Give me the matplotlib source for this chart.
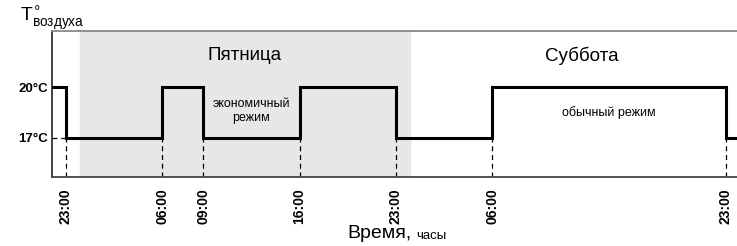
import matplotlib.pyplot as plt

plt.rcParams['font.family'] = ['Liberation Sans', 'DejaVu Sans']

# hours counted from Thursday 00:00
switch_hours = [23, 30, 33, 40, 47, 54, 71]
switch_labels = ['23:00', '06:00', '09:00', '16:00', '23:00', '06:00', '23:00']
temps_before = [20, 17, 20, 17, 20, 17, 20]   # temperature before each switch
temp_levels = [17, 20]
temp_labels = ['17°C', '20°C']
friday = (24, 48)
x_min, x_max = 22, 71.8

# build the step line from the switch points
xs = [x_min]
ys = [temps_before[0]]
for h, t in zip(switch_hours, temps_before):
    new_t = 17 if t == 20 else 20
    xs += [h, h]
    ys += [t, new_t]
xs.append(x_max)
ys.append(ys[-1])

fig = plt.figure(figsize=(7.37, 2.46), dpi=100)
ax = fig.add_axes([52 / 737, 1 - 177 / 246, 1 - 52 / 737, (177 - 31) / 246])

ax.axvspan(friday[0], friday[1], color='#e6e7e8', zorder=0)
ax.plot(xs, ys, color='black', lw=2.2, solid_joinstyle='miter', zorder=3)

for h, t in zip(switch_hours, temps_before):
    ax.plot([h, h], [14.7, 17], color='black', lw=0.9, ls=(0, (4, 3)), zorder=2)
ax.plot([x_min, switch_hours[0]], [17, 17], color='black', lw=0.9, ls=(0, (4, 3)), zorder=2)

ax.set_xlim(x_min, x_max)
ax.set_ylim(14.7, 23.3)
ax.set_xticks(switch_hours)
ax.set_xticklabels(switch_labels, rotation=90, fontsize=10, fontweight='bold')
ax.set_yticks(temp_levels)
ax.set_yticklabels(temp_labels, fontsize=9.5, fontweight='bold')
ax.tick_params(length=0, pad=8)
ax.tick_params(axis='y', pad=3)

ax.spines['left'].set_color('#333333')
ax.spines['bottom'].set_color('#444444')
ax.spines['top'].set_color('#888888')
ax.spines['right'].set_visible(False)
for s in ['left', 'bottom', 'top']:
    ax.spines[s].set_linewidth(1.3)

ax.text(36, 21.85, 'Пятница', fontsize=13.5, ha='center', va='center')
ax.text(60.5, 21.85, 'Суббота', fontsize=13.5, ha='center', va='center')
ax.text(36.5, 18.6, 'экономичный\nрежим', fontsize=9, ha='center', va='center',
        linespacing=1.2)
ax.text(62.5, 18.5, 'обычный режим', fontsize=9, ha='center', va='center')

fig.text(20 / 737, 1 - 21 / 246, r'T$^{\circ}_{\mathregular{воздуха}}$',
         fontsize=14, va='baseline', ha='left')

fig.text(347 / 737, 1 - 233 / 246, 'Время,', fontsize=14, va='center', ha='left')
fig.text(416 / 737, 1 - 236 / 246, 'часы', fontsize=9.5, va='center', ha='left')

fig.savefig('out.png', dpi=100)
